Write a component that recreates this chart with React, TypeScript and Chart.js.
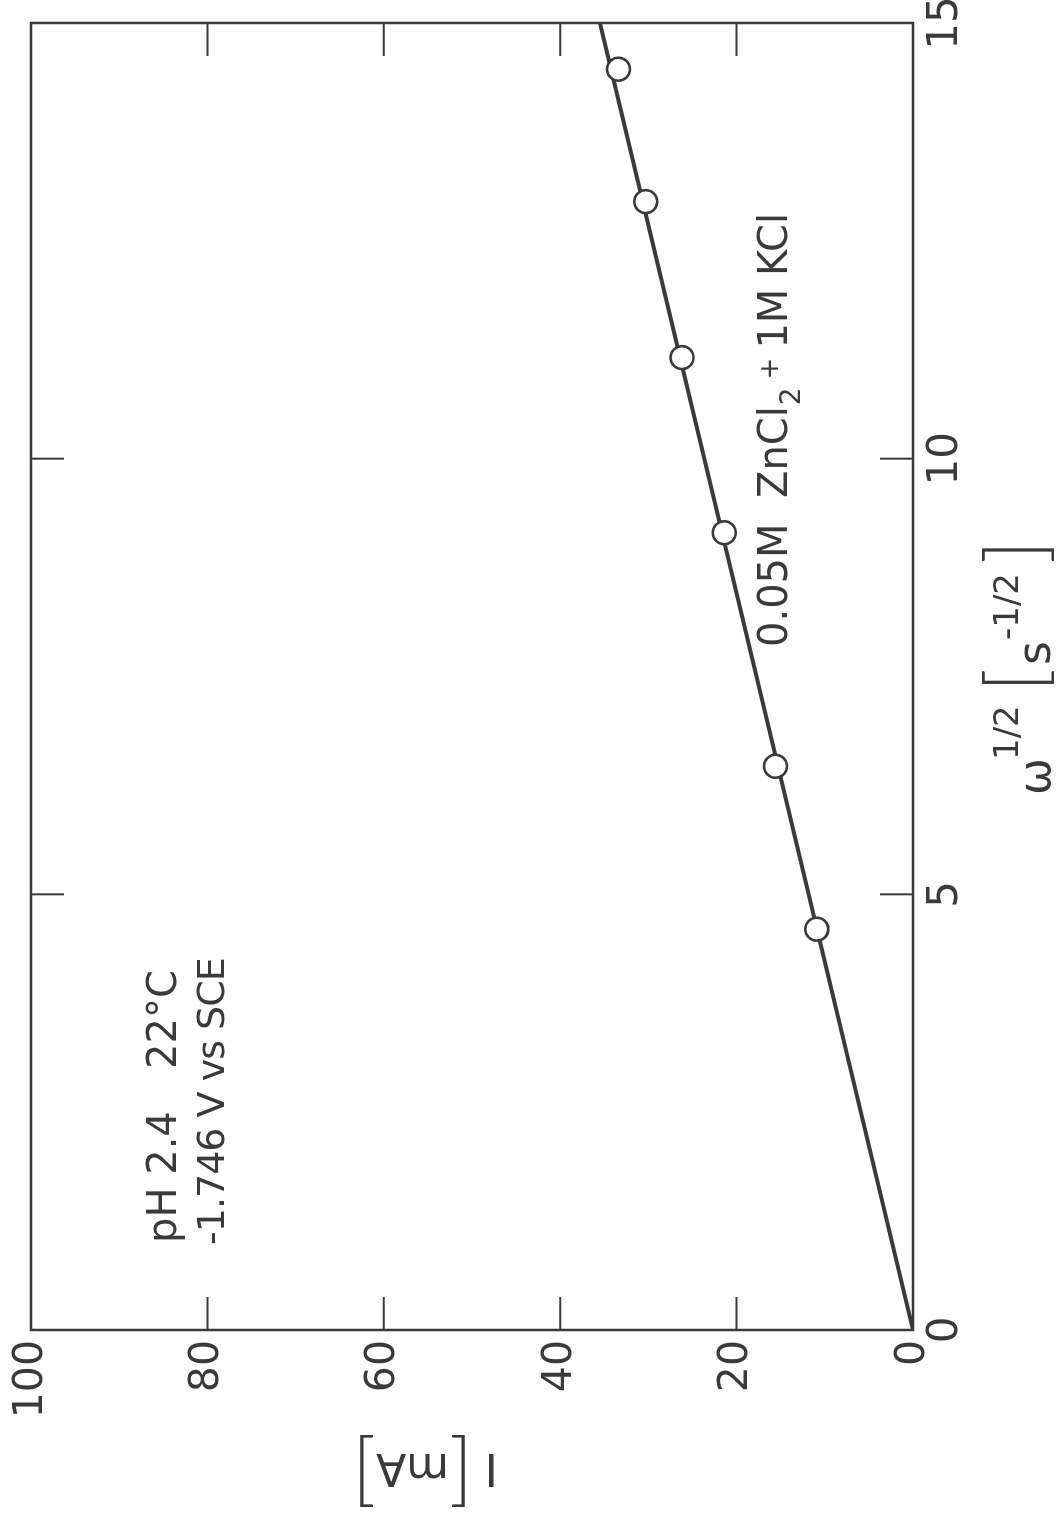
import { useEffect, useRef } from 'react';
import { Chart, registerables } from 'chart.js';

Chart.register(...registerables);

// ---- data ----
const omegaSqrt = [4.6, 6.47, 9.15, 11.16, 12.95, 14.47];
const currentMA = [10.9, 15.6, 21.4, 26.2, 30.3, 33.4];
const fitOmega = [0, 15];
const fitCurrent = [0, 35.5];
const xTickValues = [0, 5, 10, 15];
const yTickValues = [0, 20, 40, 60, 80, 100];
const innerXTicks = [5, 10];
const innerYTicks = [20, 40, 60, 80];

const INK = '#3a3a3a';
const FONT = '"DejaVu Sans", "Liberation Sans", sans-serif';
const THIN = '"Lato", "DejaVu Sans", sans-serif';

const framePlugin = {
  id: 'frameTicks',
  afterDatasetsDraw(chart: any) {
    const { ctx, chartArea: a, scales } = chart;
    const len = 33;
    ctx.save();
    ctx.strokeStyle = INK;
    ctx.lineWidth = 2.5;
    ctx.strokeRect(a.left, a.top, a.right - a.left, a.bottom - a.top);
    ctx.lineWidth = 2;
    ctx.beginPath();
    innerXTicks.forEach((v) => {
      const x = scales.x.getPixelForValue(v);
      ctx.moveTo(x, a.bottom);
      ctx.lineTo(x, a.bottom - len);
      ctx.moveTo(x, a.top);
      ctx.lineTo(x, a.top + len);
    });
    innerYTicks.forEach((v) => {
      const y = scales.y.getPixelForValue(v);
      ctx.moveTo(a.left, y);
      ctx.lineTo(a.left + len, y);
      ctx.moveTo(a.right, y);
      ctx.lineTo(a.right - len, y);
    });
    ctx.stroke();
    ctx.restore();
  },
};

const textPlugin = {
  id: 'texts',
  afterDraw(chart: any) {
    const { ctx } = chart;
    ctx.save();
    ctx.fillStyle = INK;
    ctx.textBaseline = 'alphabetic';
    ctx.textAlign = 'left';
    const put = (t: string, x: number, y: number, size: number, fam: string = FONT, weight = 'normal') => {
      ctx.font = `${weight} ${size}px ${fam}`;
      ctx.fillText(t, x, y);
      return ctx.measureText(t).width;
    };
    // annotations
    put('pH 2.4', 279, 176, 40);
    put('22°C', 453, 176, 40);
    ctx.save();
    (ctx as any).letterSpacing = '-1px';
    put('-1.746 V vs SCE', 277, 224, 38);
    ctx.restore();

    let x = 875;
    x += put('0.05M  ZnCl', x, 787, 40);
    x += put('2', x + 1, 800, 28) + 9;
    x += put('+', x, 778, 26) + 9;
    put('1M KCl', x, 787, 40);

    // x-axis title: ω^1/2 [s^-1/2]
    put('ω', 727, 1050, 44);
    put('1/2', 762, 1018, 34);
    put('[', 830, 1043, 80, THIN, '300');
    put('s', 857, 1050, 46);
    put('-1/2', 882, 1018, 34);
    put(']', 958, 1043, 80, THIN, '300');

    // y-axis title: I [mA]
    ctx.translate(52, 425);
    ctx.rotate(-Math.PI / 2);
    ctx.font = `44px ${FONT}`;
    const wI = ctx.measureText('I').width;
    const wMA = ctx.measureText('mA').width;
    ctx.font = `300 80px ${THIN}`;
    const wB = ctx.measureText('[').width;
    const gap = 12;
    const total = wI + gap + wB + wMA + wB;
    let px = -total / 2;
    px += put('I', px, 16, 44) + gap;
    px += put('[', px, 24, 80, THIN, '300');
    px += put('mA', px, 16, 44);
    put(']', px, 24, 80, THIN, '300');
    ctx.restore();
  },
};

export default function App() {
  const ref = useRef<HTMLCanvasElement>(null);
  useEffect(() => {
    const chart = new Chart(ref.current as HTMLCanvasElement, {
      type: 'scatter',
      data: {
        datasets: [
          {
            label: 'measured',
            data: omegaSqrt.map((w, i) => ({ x: w, y: currentMA[i] })),
            showLine: false,
            pointStyle: 'circle',
            pointRadius: 11.5,
            pointBorderWidth: 2.5,
            pointBorderColor: INK,
            pointBackgroundColor: '#ffffff',
            order: 0,
          },
          {
            label: 'fit',
            data: fitOmega.map((w, i) => ({ x: w, y: fitCurrent[i] })),
            showLine: true,
            borderColor: INK,
            borderWidth: 4,
            pointRadius: 0,
            order: 1,
          },
        ],
      },
      options: {
        responsive: false,
        animation: false,
        devicePixelRatio: 1,
        layout: { padding: { top: 31, right: 23, left: 0, bottom: 0 }, autoPadding: false },
        plugins: { legend: { display: false }, tooltip: { enabled: false } },
        scales: {
          x: {
            type: 'linear',
            min: 0,
            max: 15,
            afterBuildTicks: (s: any) => {
              s.ticks = xTickValues.map((v) => ({ value: v }));
            },
            ticks: { font: { family: FONT, size: 42 }, color: INK, padding: 8, maxRotation: 0, autoSkip: false },
            grid: { display: false, drawTicks: false },
            border: { display: false },
            afterFit: (s: any) => {
              s.height = 148;
              s.paddingLeft = 0;
              s.paddingRight = 0;
            },
          },
          y: {
            type: 'linear',
            min: 0,
            max: 100,
            afterBuildTicks: (s: any) => {
              s.ticks = yTickValues.map((v) => ({ value: v }));
            },
            ticks: { font: { family: FONT, size: 41 }, color: INK, padding: 10, autoSkip: false },
            grid: { display: false, drawTicks: false },
            border: { display: false },
            afterFit: (s: any) => {
              s.width = 192;
              s.paddingTop = 0;
              s.paddingBottom = 0;
            },
          },
        },
      },
      plugins: [framePlugin, textPlugin],
    } as any);
    return () => chart.destroy();
  }, []);

  return (
    <div
      style={{
        position: 'fixed',
        left: 0,
        top: 0,
        width: 1061,
        height: 1522,
        overflow: 'hidden',
        background: '#ffffff',
      }}
    >
      <div
        style={{
          position: 'absolute',
          left: 0,
          top: 0,
          width: 1522,
          height: 1061,
          transformOrigin: '0 0',
          transform: 'translateY(1522px) rotate(-90deg)',
        }}
      >
        <canvas ref={ref} width={1522} height={1061} style={{ width: 1522, height: 1061, display: 'block' }} />
      </div>
    </div>
  );
}
